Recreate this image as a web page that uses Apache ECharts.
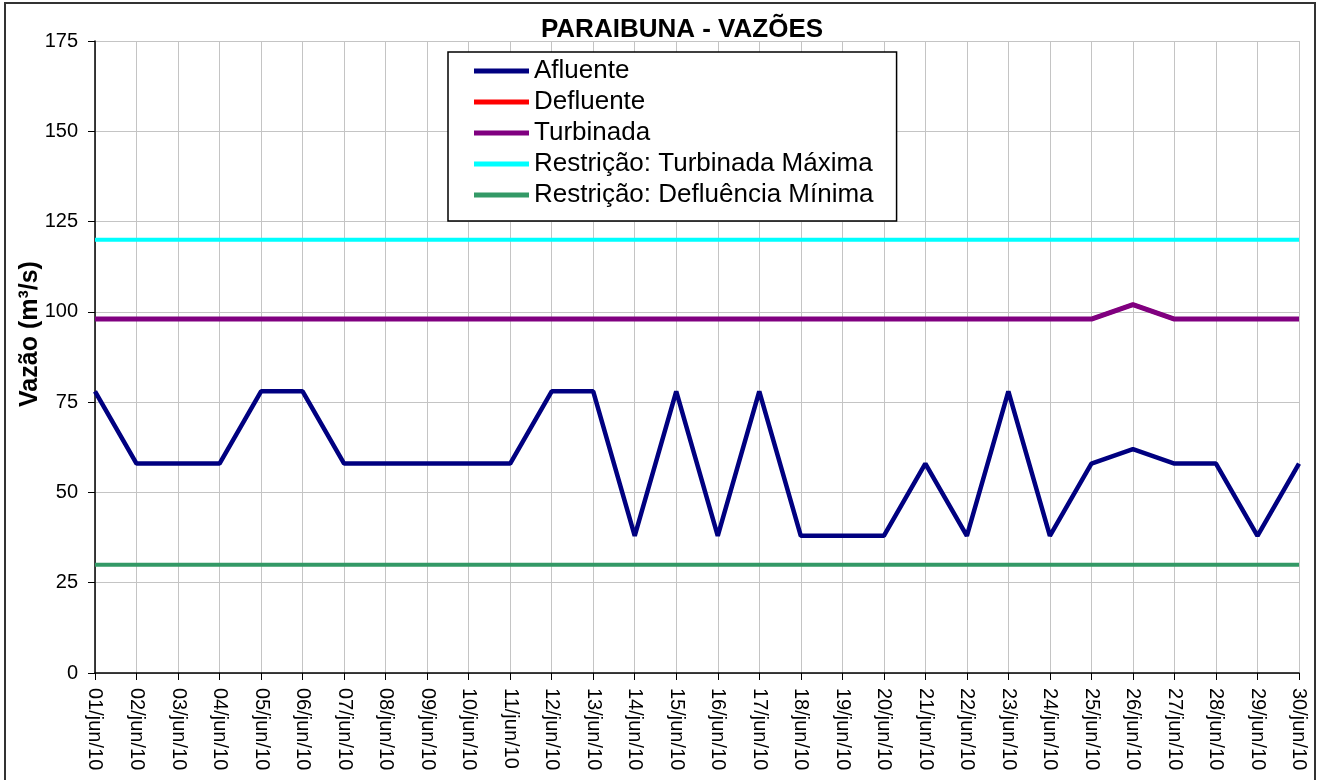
<!DOCTYPE html>
<html>
<head>
<meta charset="utf-8">
<script src="https://cdn.jsdelivr.net/npm/echarts@6/dist/echarts.min.js"></script>
<style>
  html, body { margin: 0; padding: 0; background: #fff; }
  #chart { width: 1320px; height: 780px; }
</style>
</head>
<body>
<div id="chart"></div>
<script>
// dias de junho/2010
var dias = [];
for (var d = 1; d <= 30; d++) {
  dias.push((d < 10 ? '0' + d : '' + d) + '/jun/10');
}

// vazões (m³/s)
var afluente = [78, 58, 58, 58, 78, 78, 58, 58, 58, 58, 58, 78, 78, 38, 78,
                38, 78, 38, 38, 38, 58, 38, 78, 38, 58, 62, 58, 58, 38, 58];
var defluente = [98, 98, 98, 98, 98, 98, 98, 98, 98, 98, 98, 98, 98, 98, 98,
                 98, 98, 98, 98, 98, 98, 98, 98, 98, 98, 102, 98, 98, 98, 98];
var turbinada = [98, 98, 98, 98, 98, 98, 98, 98, 98, 98, 98, 98, 98, 98, 98,
                 98, 98, 98, 98, 98, 98, 98, 98, 98, 98, 102, 98, 98, 98, 98];
var turbMaxima = [120, 120, 120, 120, 120, 120, 120, 120, 120, 120, 120, 120, 120, 120, 120,
                  120, 120, 120, 120, 120, 120, 120, 120, 120, 120, 120, 120, 120, 120, 120];
var deflMinima = [30, 30, 30, 30, 30, 30, 30, 30, 30, 30, 30, 30, 30, 30, 30,
                  30, 30, 30, 30, 30, 30, 30, 30, 30, 30, 30, 30, 30, 30, 30];

var fonte = '"Liberation Sans", Arial, sans-serif';

function linha(nome, dados, cor, largura) {
  return {
    name: nome,
    type: 'line',
    data: dados,
    symbol: 'none',
    lineStyle: { color: cor, width: largura },
    itemStyle: { color: cor },
    animation: false
  };
}

var chart = echarts.init(document.getElementById('chart'));
chart.setOption({
  animation: false,
  textStyle: { fontFamily: fonte },
  title: {
    text: 'PARAIBUNA - VAZÕES',
    left: 677,
    textAlign: 'center',
    top: 12,
    textStyle: { fontSize: 26, fontWeight: 'bold', color: '#000', fontFamily: fonte }
  },
  graphic: [{
    type: 'rect',
    shape: { x: 5, y: 3, width: 1310, height: 800 },
    style: { fill: 'none', stroke: '#333', lineWidth: 2 },
    silent: true
  }],
  legend: {
    orient: 'vertical',
    left: 448,
    top: 52,
    padding: [6, 23, 13, 26],
    itemGap: 5,
    itemWidth: 55,
    itemHeight: 5,
    backgroundColor: '#fff',
    borderColor: '#000',
    borderWidth: 1.5,
    borderRadius: 0,
    icon: 'rect',
    textStyle: { fontSize: 26, color: '#000', fontFamily: fonte },
    data: ['Afluente', 'Defluente', 'Turbinada', 'Restrição: Turbinada Máxima', 'Restrição: Defluência Mínima']
  },
  grid: { left: 95, right: 21, top: 41, bottom: 107 },
  xAxis: {
    type: 'category',
    data: dias,
    boundaryGap: false,
    axisLine: { lineStyle: { color: '#000', width: 1.5 } },
    axisTick: { show: true, length: 7, alignWithLabel: true, lineStyle: { color: '#000' } },
    axisLabel: { rotate: -90, fontSize: 20, color: '#000', margin: 15, interval: 0, fontFamily: fonte },
    splitLine: { show: true, lineStyle: { color: '#c4c4c4', width: 1 } }
  },
  yAxis: {
    type: 'value',
    min: 0,
    max: 175,
    interval: 25,
    name: 'Vazão (m³/s)',
    nameLocation: 'middle',
    nameGap: 52,
    nameMoveOverlap: false,
    nameTextStyle: { fontSize: 25, fontWeight: 'bold', color: '#000', fontFamily: fonte, padding: [0, 0, 0, 46] },
    axisLine: { show: true, lineStyle: { color: '#000', width: 1.5 } },
    axisTick: { show: true, length: 7, lineStyle: { color: '#000' } },
    axisLabel: { fontSize: 20, color: '#000', margin: 17, fontFamily: fonte },
    splitLine: { show: true, lineStyle: { color: '#c4c4c4', width: 1 } }
  },
  series: [
    linha('Restrição: Turbinada Máxima', turbMaxima, '#00ffff', 4),
    linha('Restrição: Defluência Mínima', deflMinima, '#339966', 4),
    linha('Defluente', defluente, '#ff0000', 4),
    linha('Turbinada', turbinada, '#800080', 5),
    linha('Afluente', afluente, '#000080', 4.5)
  ]
});
</script>
</body>
</html>
